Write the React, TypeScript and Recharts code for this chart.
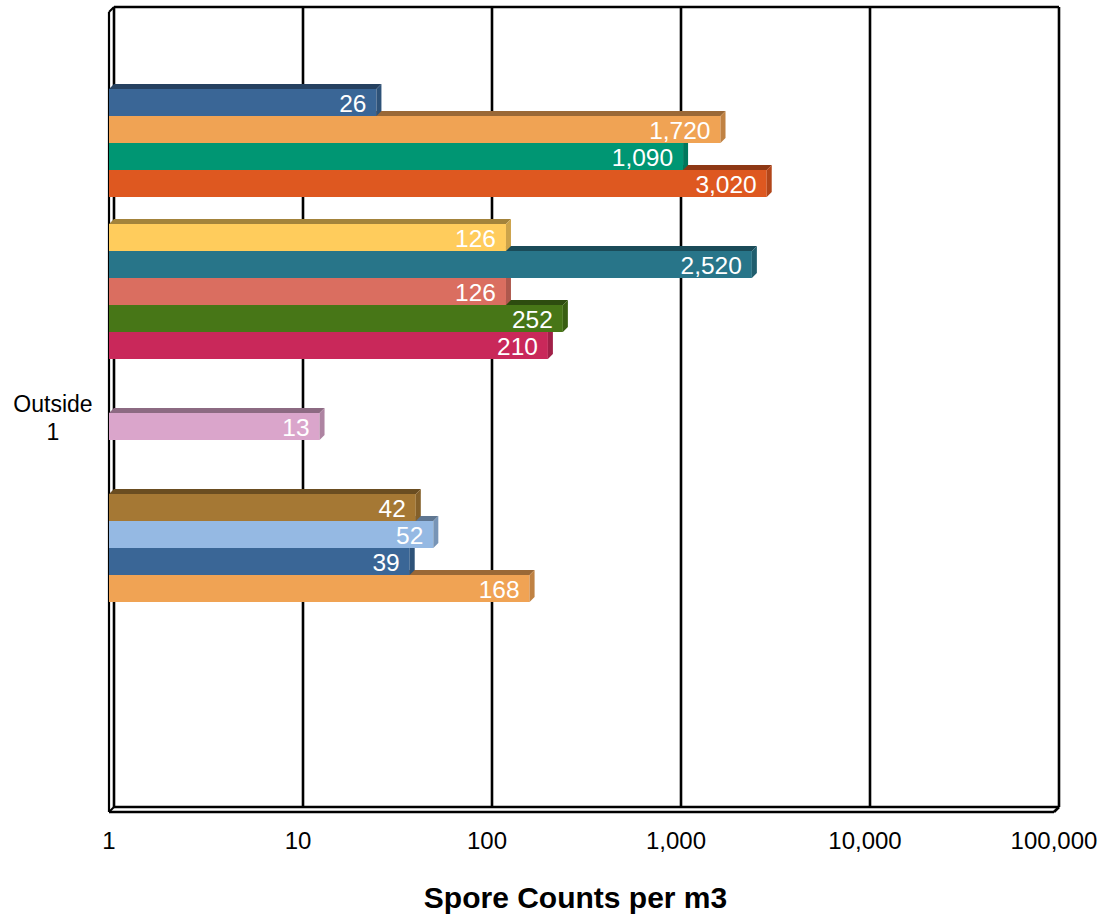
import { Bar, BarChart, CartesianGrid, XAxis, YAxis } from "recharts";

// one category, bars stacked top to bottom in slots (null = empty slot)
const category = "Outside 1";
const slotValues: (number | null)[] = [
  26, 1720, 1090, 3020, null,
  126, 2520, 126, 252, 210, null, null,
  13, null, null,
  42, 52, 39, 168,
  null, null, null, null, null,
];
const slotColors: string[] = [
  "#3A6696", "#F0A354", "#009673", "#DE5820", "none",
  "#FFCC5C", "#287589", "#DA6E60", "#477617", "#C9285A", "none", "none",
  "#DAA5CB", "none", "none",
  "#A57834", "#95B9E3", "#3A6696", "#F0A354",
  "none", "none", "none", "none", "none",
];
const xTicks = [1, 10, 100, 1000, 10000, 100000];
const xTitle = "Spore Counts per m3";

const FONT = '"Liberation Sans", Arial, sans-serif';
const DEPTH = 5;

// reversed so the top bar is painted last (covers the top face of the bar below it)
const rows = slotValues
  .map((v, i) => ({ slot: `s${i}`, count: v, color: slotColors[i] }))
  .reverse();

const fmt = (v: number) => v.toLocaleString("en-US");

function shade(hex: string, k: number) {
  const n = parseInt(hex.slice(1), 16);
  const r = Math.round(((n >> 16) & 255) * k);
  const g = Math.round(((n >> 8) & 255) * k);
  const b = Math.round((n & 255) * k);
  return `rgb(${r},${g},${b})`;
}

function Bar3D(props: any) {
  const { x, y, width, height, payload } = props;
  if (payload?.count == null || !(width > 0)) return <g />;
  const c = payload.color;
  const d = DEPTH;
  return (
    <g>
      <rect x={x} y={y} width={width} height={height} fill={c} />
      <polygon
        points={`${x},${y} ${x + d},${y - d} ${x + width + d},${y - d} ${x + width},${y}`}
        fill={shade(c, 0.64)}
      />
      <polygon
        points={`${x + width},${y} ${x + width + d},${y - d} ${x + width + d},${y + height - d} ${x + width},${y + height}`}
        fill={shade(c, 0.8)}
      />
      <text
        x={x + width - 10}
        y={y + height / 2 + 1}
        dominantBaseline="central"
        textAnchor="end"
        fontSize={24.5}
        fill="#fff"
        fontFamily={FONT}
      >
        {fmt(payload.count)}
      </text>
    </g>
  );
}

// gridlines sit on the back wall; the first one also draws the box frame
function GridLine(p: any) {
  const { x1, y1, y2, index } = p;
  const d = DEPTH;
  const back = (
    <line x1={x1 + d} y1={y1 - d} x2={x1 + d} y2={y2 - d} stroke="#000" strokeWidth={2.6} />
  );
  if (index !== 0) return <g key={`v-${index}`}>{back}</g>;
  const L = p.x, T = p.y, R = p.x + p.width, B = p.y + p.height;
  return (
    <g key={`v-${index}`} stroke="#000">
      {back}
      <line x1={L + d} y1={T - d} x2={R + d} y2={T - d} strokeWidth={2.6} />
      <line x1={L} y1={T} x2={L} y2={B} strokeWidth={2.2} />
      <line x1={L} y1={T} x2={L + d} y2={T - d} strokeWidth={2} />
      <line x1={L + d} y1={B - d} x2={R + d} y2={B - d} strokeWidth={2.6} />
      <line x1={L} y1={B} x2={R} y2={B} strokeWidth={2.6} />
      <line x1={L} y1={B} x2={L + d} y2={B - d} strokeWidth={2} />
      <line x1={R} y1={B} x2={R + d} y2={B - d} strokeWidth={2.6} />
    </g>
  );
}

function XTick({ x, y, payload }: any) {
  return (
    <text x={x} y={y + 37} textAnchor="middle" fontSize={24} fill="#000" fontFamily={FONT}>
      {fmt(payload.value)}
    </text>
  );
}

function CategoryLabel({ viewBox }: any) {
  const cx = viewBox.x + 53;
  const cy = viewBox.y + viewBox.height / 2;
  const [a, b] = category.split(" ");
  return (
    <g fontSize={23} fill="#000" fontFamily={FONT}>
      <text x={cx} y={cy} textAnchor="middle">{a}</text>
      <text x={cx} y={cy + 28} textAnchor="middle">{b}</text>
    </g>
  );
}

function TitleLabel({ viewBox }: any) {
  return (
    <text
      x={viewBox.x + viewBox.width / 2 - 6}
      y={908}
      textAnchor="middle"
      fontSize={30}
      fontWeight="bold"
      fill="#000"
      fontFamily={FONT}
    >
      {xTitle}
    </text>
  );
}

export default function App() {
  return (
    <div style={{ position: "absolute", left: 0, top: 0, background: "#fff" }}>
      <BarChart
        width={1104}
        height={917}
        data={rows}
        layout="vertical"
        margin={{ top: 12, right: 50, left: 0, bottom: 45 }}
        barCategoryGap={0}
        barGap={0}
      >
        <CartesianGrid horizontal={false} vertical={GridLine} />
        <XAxis
          type="number"
          scale="log"
          domain={[1, 100000]}
          ticks={xTicks}
          allowDataOverflow
          axisLine={false}
          tickLine={false}
          tickSize={0}
          tickMargin={0}
          height={60}
          tick={<XTick />}
          interval={0}
          label={<TitleLabel />}
        />
        <YAxis
          type="category"
          dataKey="slot"
          reversed
          width={109}
          padding={{ top: 77, bottom: 75 }}
          axisLine={false}
          tickLine={false}
          tick={false}
          label={<CategoryLabel />}
        />
        <Bar dataKey="count" shape={<Bar3D />} isAnimationActive={false} />
      </BarChart>
    </div>
  );
}
